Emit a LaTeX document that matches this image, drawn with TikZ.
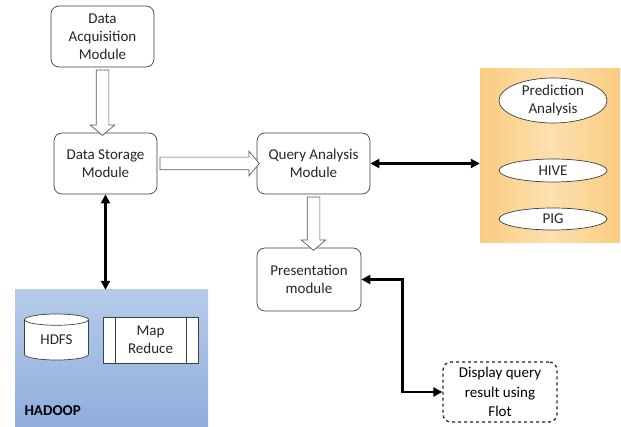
\documentclass[tikz,border=0pt]{standalone}
\usepackage{fontspec}
\setmainfont{Carlito}
\usetikzlibrary{shapes.geometric,shapes.arrows,arrows.meta,calc}

\definecolor{boxline}{RGB}{64,64,64}
\definecolor{orangeedge}{RGB}{250,204,128}
\definecolor{orangemid}{RGB}{252,224,175}
\definecolor{hadooptop}{RGB}{182,203,234}
\definecolor{hadoopbot}{RGB}{143,173,220}

\tikzset{
  module/.style={draw=boxline, line width=0.7pt, rounded corners=8pt, align=center,
    inner sep=0pt, minimum width=103pt, minimum height=61pt, fill=white},
  tool/.style={draw=boxline, line width=0.7pt, ellipse, fill=white, align=center,
    inner sep=0pt, minimum width=108pt},
  hollow/.style={single arrow, draw=black!65, line width=0.7pt, fill=white, inner xsep=0pt,
    inner ysep=6pt, single arrow head extend=6pt, single arrow tip angle=100},
  link/.style={line width=2.6pt,
    {Triangle[length=9pt,width=9pt]}-{Triangle[length=9pt,width=9pt]}}
}

\newcommand{\blockarrow}[2]{%
  \path let \p1=(#1), \p2=(#2), \n1={veclen(\x2-\x1,\y2-\y1)} in
    (#1) -- (#2) node[hollow, midway, sloped, allow upside down, minimum height=\n1] {};}

\begin{document}
\begin{tikzpicture}[x=1pt, y=-1pt, font=\fontsize{15}{18}\selectfont\color{black!85}]
  \useasboundingbox (0,0) rectangle (621,427);

  % coloured panels
  \node[minimum width=140pt, minimum height=174pt, inner sep=0pt,
    left color=orangeedge, right color=orangeedge, middle color=orangemid] (tools) at (550,156) {};
  \node[minimum width=193pt, minimum height=137pt, inner sep=0pt,
    top color=hadooptop, bottom color=hadoopbot] (hadoop) at (111.5,358.5) {};

  % modules
  \node[module] (acq) at (102.5,36.5) {Data\\Acquisition\\Module};
  \node[module] (store) at (105.5,163.5) {Data Storage\\Module};
  \node[module, minimum width=113pt] (qa) at (313.5,163.5) {Query Analysis\\Module};
  \node[module, minimum width=104pt, minimum height=63pt] (pres) at (309,279.5) {Presentation\\module};
  \node[module, dashed, line width=1.3pt, draw=black!85, minimum width=114pt,
    minimum height=60pt, font=\fontsize{15}{19.5}\selectfont] (disp) at (500,392) {Display query\\result using\\Flot};

  % analysis tools
  \node[tool, minimum height=45pt] (pred) at (553,100.5) {Prediction\\Analysis};
  \node[tool, minimum height=23pt] (hive) at (553,170.5) {HIVE};
  \node[tool, minimum height=22pt] (pig) at (553,219) {PIG};

  % hadoop parts
  \node[draw=boxline, line width=0.7pt, fill=white, cylinder, shape border rotate=90, aspect=0.35,
    minimum width=64pt, minimum height=46pt, inner sep=0pt] (hdfs) at (56.5,340) {HDFS};
  \node[draw=boxline, line width=0.7pt, fill=white, minimum width=95pt, minimum height=46pt,
    inner sep=0pt, align=center] (mr) at (150.5,340) {Map\\Reduce};
  \draw[boxline, line width=0.7pt] ([xshift=13pt]mr.north west) -- ([xshift=13pt]mr.south west);
  \draw[boxline, line width=0.7pt] ([xshift=-12pt]mr.north east) -- ([xshift=-12pt]mr.south east);
  \node[anchor=west, font=\fontsize{15}{18}\selectfont\bfseries] (hlabel) at (21,411) {HADOOP};

  % flow
  \blockarrow{acq.south}{acq.south |- store.north}
  \blockarrow{store.east}{qa.west}
  \blockarrow{qa.south}{qa.south |- pres.north}

  \draw[link] (store.south) -- (store.south |- hadoop.north);
  \draw[link] (qa.east) -- (qa.east -| tools.west);
  \draw[link] (pres.east) -- ++(41,0) |- (disp.west);
\end{tikzpicture}
\end{document}
